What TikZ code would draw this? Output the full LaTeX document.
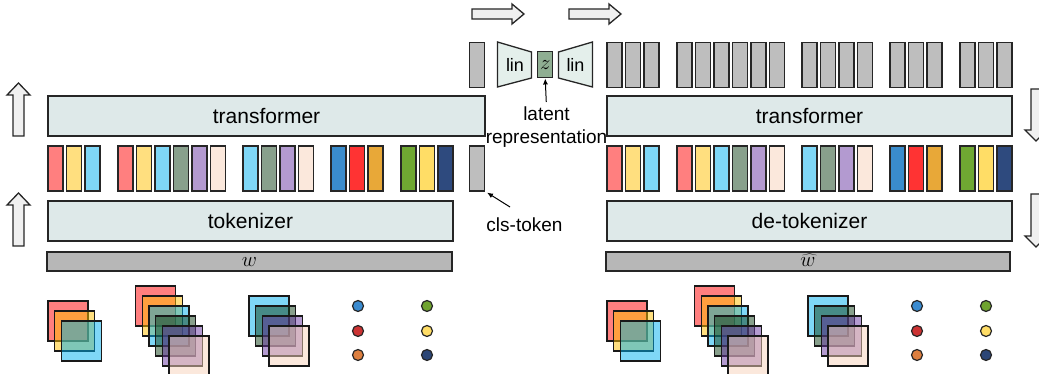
\documentclass[tikz,border=0pt]{standalone}
\usepackage{fontspec}
\setmainfont{Liberation Sans}
\usetikzlibrary{arrows.meta}
\definecolor{boxc}{HTML}{DEE9E9}
\definecolor{barc}{HTML}{B7B7B7}
\definecolor{grayt}{HTML}{BEBEBE}
\definecolor{arrc}{HTML}{F0F0F0}
\definecolor{linc}{HTML}{E4EFEB}
\definecolor{zc}{HTML}{8FAE92}
\definecolor{cR}{HTML}{FF7F7F}
\definecolor{cY}{HTML}{FFDF7F}
\definecolor{cB}{HTML}{7FD7F7}
\definecolor{cG}{HTML}{88A08C}
\definecolor{cP}{HTML}{B39AD0}
\definecolor{cK}{HTML}{FBE8DC}
\definecolor{dB}{HTML}{3A8CCC}
\definecolor{dR}{HTML}{FF3333}
\definecolor{dO}{HTML}{E8A838}
\definecolor{eG}{HTML}{6FA832}
\definecolor{eY}{HTML}{FFDD66}
\definecolor{eN}{HTML}{2E4A7E}
\definecolor{bR}{HTML}{FF0000}
\definecolor{bY}{HTML}{FFBF00}
\definecolor{bB}{HTML}{00AFEF}
\definecolor{bG}{HTML}{114119}
\definecolor{bP}{HTML}{6735A1}
\definecolor{bK}{HTML}{F7D1B9}
\definecolor{oB}{HTML}{3A8BD0}
\definecolor{oR}{HTML}{CC3333}
\definecolor{oO}{HTML}{DD7F3F}
\definecolor{oG}{HTML}{6FA32F}
\definecolor{oY}{HTML}{FFDD66}
\definecolor{oN}{HTML}{2C4676}
\tikzset{
  tok/.style={draw=black!85, line width=1.3pt, minimum width=15pt, minimum height=45pt, inner sep=0pt, outer sep=0pt},
  block/.style={draw=black!85, line width=1.5pt, fill=boxc, minimum height=40pt, inner sep=0pt, outer sep=0pt, font=\fontsize{21}{24}\selectfont},
  wbar/.style={draw=black!85, line width=1.3pt, fill=barc, minimum height=19pt, inner sep=0pt, outer sep=0pt, text height=10pt, text depth=0pt, font=\fontsize{20}{22}\selectfont},
  bigarrow/.style={draw=black!85, line width=1.3pt, fill=arrc},
  sq/.style={draw=black!90, line width=1.3pt, fill opacity=0.5},
  dotn/.style={draw=black!85, line width=1.2pt, circle, minimum size=11pt, inner sep=0pt},
  lbl/.style={font=\fontsize{19}{23}\selectfont, inner sep=0pt},
  linlbl/.style={font=\fontsize{18}{20}\selectfont, inner sep=0pt},
  lintrap/.style={draw=black!85, line width=1.3pt, fill=linc},
  zbox/.style={draw=black!85, line width=1.3pt, fill=zc, minimum width=15pt, minimum height=26pt, inner sep=0pt, text height=9pt, text depth=0pt, font=\fontsize{22}{24}\selectfont},
  ptr/.style={draw=black, line width=1pt, -{Latex[length=6pt,width=5pt]}}
}
\begin{document}
\begin{tikzpicture}[x=1pt,y=-1pt]
\useasboundingbox (0,0) rectangle (1039,374);
\clip (0,0) rectangle (1039,374);

% big hollow arrows
\draw[bigarrow] (472,9) -- (512,9) -- (512,4) -- (524,14) -- (512,24) -- (512,19) -- (472,19) -- cycle;
\draw[bigarrow] (569,9) -- (609,9) -- (609,4) -- (621,14) -- (609,24) -- (609,19) -- (569,19) -- cycle;
\draw[bigarrow] (13,136) -- (13,95) -- (7,95) -- (18.5,83) -- (30,95) -- (24,95) -- (24,136) -- cycle;
\draw[bigarrow] (13,246) -- (13,205) -- (7,205) -- (18.5,193) -- (30,205) -- (24,205) -- (24,246) -- cycle;
\draw[bigarrow] (1031,89) -- (1041,89) -- (1041,130) -- (1047,130) -- (1036,141) -- (1025,130) -- (1031,130) -- cycle;
\draw[bigarrow] (1031,194) -- (1041,194) -- (1041,236) -- (1047,236) -- (1036,247) -- (1025,236) -- (1031,236) -- cycle;

% blocks
\node[block, minimum width=437pt] (trL) at (266.5,116) {transformer};
\node[block, minimum width=405pt] (tokL) at (250.5,221) {tokenizer};
\node[wbar, minimum width=405pt] (wL) at (249.5,261.5) {$w$};
\node[block, minimum width=405pt] (trR) at (809.5,116) {transformer};
\node[block, minimum width=405pt] (tokR) at (809.5,221) {de-tokenizer};
\node[wbar, minimum width=404pt] (wR) at (808,261.5) {$\widehat{w}$};

% tokens
\foreach \x/\c/\n in {48/cR/1, 66.5/cY/2, 85/cB/3, 118/cR/4, 136.5/cY/5, 155/cB/6, 173.5/cG/7, 192/cP/8, 210.5/cK/9, 243/cB/10, 261.5/cG/11, 280/cP/12, 298.5/cK/13, 331/dB/14, 349.5/dR/15, 368/dO/16, 401/eG/17, 419.5/eY/18, 438/eN/19}{
  \node[tok, fill=\c] (L\n) at (\x+7.5,168.5) {};
  \node[tok, fill=\c] (R\n) at (\x+566.5,168.5) {};
  \node[tok, fill=grayt] (T\n) at (\x+566.5,65) {};
}
\node[tok, fill=grayt] (cls) at (477,168.5) {};
\node[tok, fill=grayt] (clsout) at (477,65) {};

% bottleneck
\draw[lintrap] (497.5,42) -- (531.5,52) -- (531.5,78) -- (497.5,87) -- cycle;
\draw[lintrap] (592.5,42) -- (558.5,52) -- (558.5,78) -- (592.5,87) -- cycle;
\node[linlbl] (lin1) at (515,65) {lin};
\node[linlbl] (lin2) at (575.5,65) {lin};
\node[zbox] (z) at (545.2,64.8) {$z$};

% labels and pointers
\node[lbl, align=center, anchor=north] (lat) at (546.5,107) {latent\\representation};
\draw[ptr, shorten <=5pt] (lat.north) -- (z.south);
\node[lbl] (clst) at (524.5,225) {cls-token};
\coordinate (clsa) at (510,207);
\draw[ptr, shorten >=3pt] (clsa) -- (cls.south east);

% image stacks
\foreach \dx in {0,559}{
  \foreach \c [count=\i from 0] in {bR,bY,bB}
    \filldraw[sq, fill=\c] (48+\dx+\i*6.67,301+\i*10) rectangle ++(40,40);
  \foreach \c [count=\i from 0] in {bR,bY,bB,bG,bP,bK}
    \filldraw[sq, fill=\c] (135.7+\dx+\i*6.67,286+\i*10) rectangle ++(40,40);
  \foreach \c [count=\i from 0] in {bB,bG,bP,bK}
    \filldraw[sq, fill=\c] (249+\dx+\i*6.67,296+\i*10) rectangle ++(40,40);
}
\foreach \c/\y/\n in {oB/306/1, oR/331/2, oO/355/3}{
  \node[dotn, fill=\c] (dl\n) at (358,\y) {};
  \node[dotn, fill=\c] (dr\n) at (917,\y) {};
}
\foreach \c/\y/\n in {oG/306/1, oY/331/2, oN/355/3}{
  \node[dotn, fill=\c] (el\n) at (427,\y) {};
  \node[dotn, fill=\c] (er\n) at (986,\y) {};
}
\end{tikzpicture}
\end{document}
